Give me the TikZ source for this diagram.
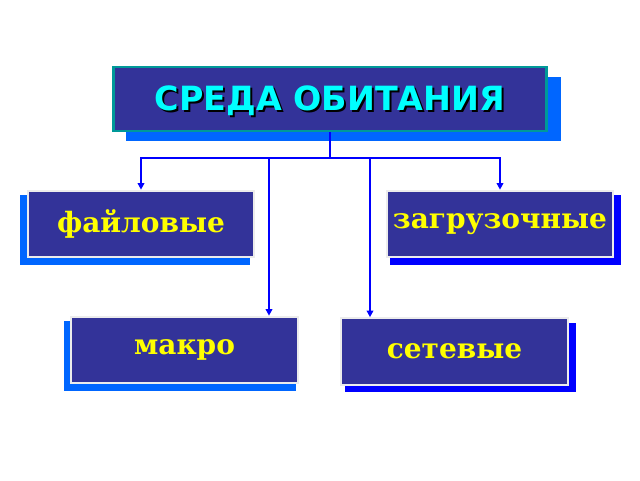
\documentclass[tikz,border=0pt]{standalone}
\usepackage{fontspec}
\setmainfont{DejaVu Serif}
\setsansfont{DejaVu Sans}
\usetikzlibrary{arrows.meta,positioning}
\definecolor{boxfill}{HTML}{333399}
\definecolor{lightshadow}{HTML}{0066FF}
\definecolor{darkshadow}{HTML}{0000FF}
\definecolor{titlecyan}{HTML}{00FFFF}
\definecolor{kindyellow}{HTML}{FFFF00}
\begin{document}
\begin{tikzpicture}[x=0.75pt, y=-0.75pt,
    kind/.style={rectangle, fill=boxfill, draw=white!85!gray, line width=1.5pt,
    minimum width=170pt, minimum height=50pt, inner sep=0pt,
    font=\fontsize{21}{24}\selectfont\bfseries, text=kindyellow},
    link/.style={draw=darkshadow, line width=2.2pt},
    arrow/.style={link, -{Triangle[length=5pt, width=5pt]}}]
    \useasboundingbox[fill=white] (0,0) rectangle (640,480);

    % shadows
    \fill[lightshadow] (126,77) rectangle (561,141);
    \fill[lightshadow] (20,195) rectangle (250,265);
    \fill[darkshadow] (390,195) rectangle (621,265);
    \fill[lightshadow] (64,321) rectangle (296,391);
    \fill[darkshadow] (345,323) rectangle (576,392);

    % boxes
    \node (habitat) [rectangle, fill=boxfill, draw=teal!80!cyan, line width=1.8pt,
        minimum width=325pt, minimum height=48pt, inner sep=0pt] at (330,99) {};
    \node [text=black, font=\fontsize{25}{28}\sffamily\bfseries] at (332,103) {СРЕДА ОБИТАНИЯ};
    \node [text=titlecyan, font=\fontsize{25}{28}\sffamily\bfseries] at (330,101) {СРЕДА ОБИТАНИЯ};

    \node (files) [kind] at (141,224) {файловые};
    \node (boot) [kind] at (500,224) {загрузочные};
    \node (macro) [kind] at (184.5,350) {макро};
    \node (net) [kind] at (454.5,351.5) {сетевые};

    % connectors
    \coordinate (fork) at (330,158);
    \coordinate (macrofork) at (269,158);
    \coordinate (netfork) at (370,158);
    \draw[link] (habitat.south) -- (fork);
    \draw[arrow] (fork) -| (files.north);
    \draw[arrow] (fork) -| (boot.north);
    \draw[arrow] (macrofork) -- (macrofork |- macro.north);
    \draw[arrow] (netfork) -- (netfork |- net.north);
\end{tikzpicture}
\end{document}
